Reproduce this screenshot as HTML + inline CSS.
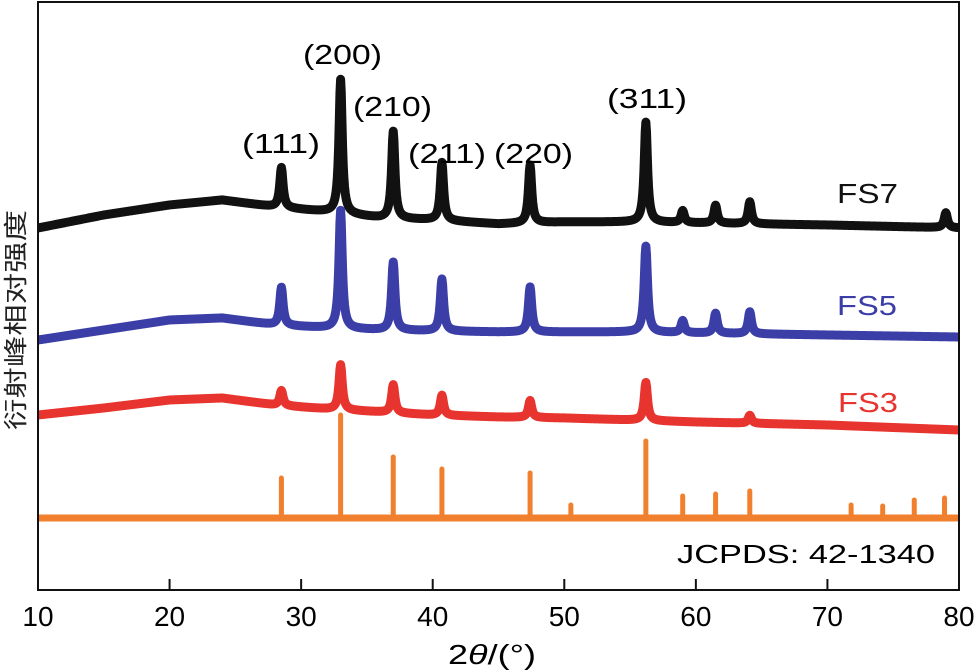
<!DOCTYPE html>
<html><head><meta charset="utf-8"><style>
html,body{margin:0;padding:0;background:#fff}
svg{display:block}
text{font-family:"Liberation Sans","Noto Sans CJK SC",sans-serif}
</style></head><body>
<svg id="chart" width="976" height="671" viewBox="0 0 976 671">
<g id="series"></g>
<rect x="38" y="2" width="921" height="588" fill="none" stroke="#111" stroke-width="2"/>
<g id="ticks"></g>
<text x="242" y="153" font-size="28" textLength="78" lengthAdjust="spacingAndGlyphs">(111)</text>
<text x="303" y="64" font-size="28" textLength="79" lengthAdjust="spacingAndGlyphs">(200)</text>
<text x="353" y="116" font-size="28" textLength="79" lengthAdjust="spacingAndGlyphs">(210)</text>
<text x="408" y="163" font-size="28" textLength="78" lengthAdjust="spacingAndGlyphs">(211)</text>
<text x="494" y="163" font-size="28" textLength="79" lengthAdjust="spacingAndGlyphs">(220)</text>
<text x="607" y="108" font-size="28" textLength="80" lengthAdjust="spacingAndGlyphs">(311)</text>
<text x="837" y="203" font-size="28" textLength="61" lengthAdjust="spacingAndGlyphs" fill="#111">FS7</text>
<text x="837" y="315" font-size="28" textLength="60" lengthAdjust="spacingAndGlyphs" fill="#3b3ea6">FS5</text>
<text x="838" y="412" font-size="28" textLength="60" lengthAdjust="spacingAndGlyphs" fill="#e8342e">FS3</text>
<text x="677" y="563" font-size="26" textLength="258" lengthAdjust="spacingAndGlyphs">JCPDS: 42-1340</text>
<text x="448" y="664" font-size="28" textLength="88" lengthAdjust="spacingAndGlyphs">2<tspan font-style="italic">θ</tspan>/(°)</text>
<text transform="translate(24,430) rotate(-90)" font-size="24" textLength="220" lengthAdjust="spacingAndGlyphs" fill="#222">衍射峰相对强度</text>
</svg>
<script>
const xTicks=[10,20,30,40,50,60,70,80];
const peakPos=[28.5,33.0,37.0,40.7,47.4,56.2,59.0,61.5,64.1,79.0];
const fs7Heights=[40,134,87,58,58,100,12,18,22,15];
const fs5Heights=[38,118,68,52,45,86,12,20,22,0];
const fs3Heights=[15,45,28,20,17,38,0,0,8,0];
const bgX=[10,15,20,24,28,32,36,40,45,50,55,60,70,80];
const fs7Bg=[362,375,385,390,383,378,372,370,366,368,368,367,365,362];
const fs5Bg=[250,260,270,272,265,262,260,259,258,258,258,257,255,253];
const fs3Bg=[175,182,190,192,185,181,178,175,173,172,170,168,165,160];
const refPos=[28.5,33.0,37.0,40.7,47.4,50.5,56.2,59.0,61.5,64.1,71.8,74.2,76.6,78.9];
const refHeights=[40,103,61,49,45,13,77,22,24,27,13,12,18,20];
const refBase=72;

const X0=38,X1=959,Y0=590,Y1=2;
function xs(v){return X0+(v-10)/(80-10)*(X1-X0);}
function ys(v){return Y0-(v/588)*(Y0-Y1);}
const NS="http://www.w3.org/2000/svg";
const gS=document.getElementById('series'),gT=document.getElementById('ticks');
function bg(arr,x){for(let i=0;i<bgX.length-1;i++){if(x<=bgX[i+1]){const t=(x-bgX[i])/(bgX[i+1]-bgX[i]);return arr[i]+t*(arr[i+1]-arr[i]);}}return arr[arr.length-1];}
function curve(bgArr,h){let d='';for(let x=10;x<=80.001;x+=0.05){let v=bg(bgArr,x);for(let k=0;k<peakPos.length;k++){const w=0.15;const dx=(x-peakPos[k])/w;v+=h[k]/(1+dx*dx);}d+=(d?'L':'M')+xs(x).toFixed(2)+','+ys(v).toFixed(2);}return d;}
function addLine(d,color,name,w){const p=document.createElementNS(NS,'path');p.setAttribute('d',d);p.setAttribute('fill','none');p.setAttribute('stroke',color);p.setAttribute('stroke-width',w);p.setAttribute('stroke-linejoin','round');


gS.appendChild(p);}
addLine(curve(fs7Bg,fs7Heights),'#111','series-fs7',9);
addLine(curve(fs5Bg,fs5Heights),'#3b3ea6','series-fs5',9);
addLine(curve(fs3Bg,fs3Heights),'#e8342e','series-fs3',9);
const base=document.createElementNS(NS,'line');
base.setAttribute('x1',xs(10));base.setAttribute('x2',xs(80));base.setAttribute('y1',ys(refBase));base.setAttribute('y2',ys(refBase));base.setAttribute('stroke','#f0802e');base.setAttribute('stroke-width',7);


gS.appendChild(base);
refPos.forEach((p,i)=>{const l=document.createElementNS(NS,'line');l.setAttribute('x1',xs(p));l.setAttribute('x2',xs(p));l.setAttribute('y1',ys(refBase));l.setAttribute('y2',ys(refBase+refHeights[i]));l.setAttribute('stroke','#f0802e');l.setAttribute('stroke-width',5);l.setAttribute('stroke-linecap','round');


gS.appendChild(l);});
xTicks.forEach(t=>{if(t>10&&t<80){const l=document.createElementNS(NS,'line');l.setAttribute('x1',xs(t));l.setAttribute('x2',xs(t));l.setAttribute('y1',Y0);l.setAttribute('y2',Y0-11);l.setAttribute('stroke','#111');l.setAttribute('stroke-width',2);


gT.appendChild(l);}
const tx=document.createElementNS(NS,'text');tx.setAttribute('x',xs(t));tx.setAttribute('y',626);tx.setAttribute('font-size','28');tx.setAttribute('text-anchor','middle');tx.textContent=t;


gT.appendChild(tx);});
</script>
</body></html>
